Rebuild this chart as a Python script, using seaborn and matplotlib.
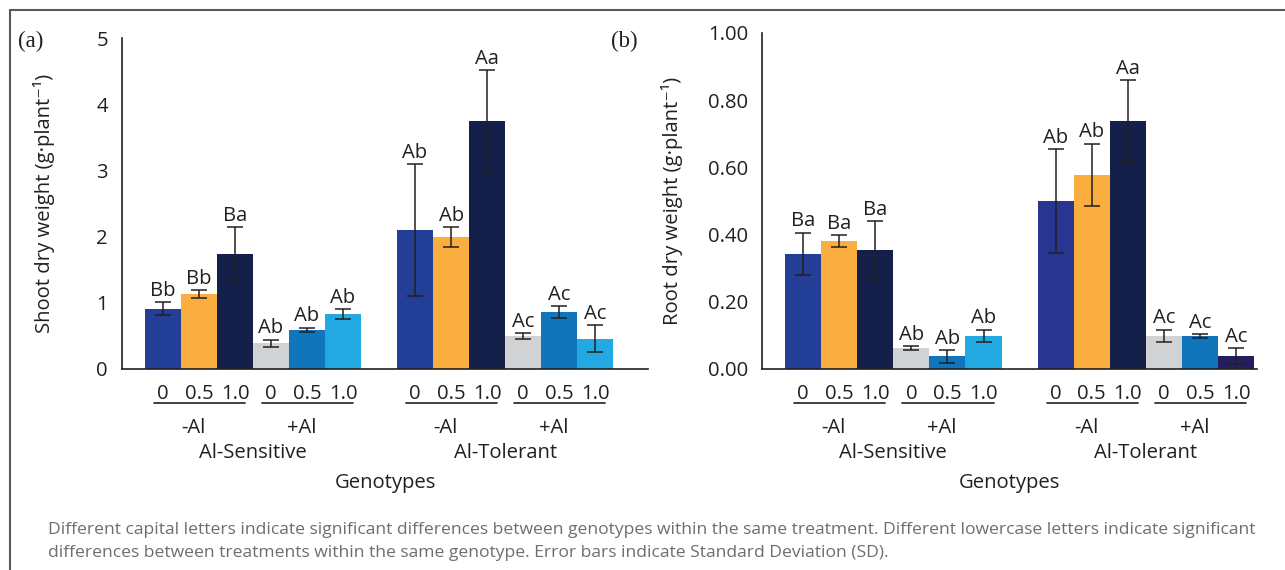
import numpy as np
import pandas as pd
import seaborn as sns
import matplotlib
matplotlib.use("Agg")
import matplotlib.pyplot as plt
from matplotlib.transforms import ScaledTranslation
from matplotlib.lines import Line2D
from matplotlib.ticker import FormatStrFormatter

# ---------------- data ----------------
genotypes = ["Al-Sensitive", "Al-Tolerant"]
treatments = ["-Al", "+Al"]
doses = ["0", "0.5", "1.0"]

shoot_mean = [0.91, 1.13, 1.74, 0.39, 0.59, 0.83, 2.10, 1.99, 3.75, 0.50, 0.86, 0.46]
shoot_sd = [0.10, 0.06, 0.40, 0.055, 0.035, 0.08, 1.00, 0.15, 0.77, 0.04, 0.095, 0.20]
shoot_letters = ["Bb", "Bb", "Ba", "Ab", "Ab", "Ab", "Ab", "Ab", "Aa", "Ac", "Ac", "Ac"]

root_mean = [0.343, 0.381, 0.354, 0.063, 0.038, 0.098, 0.50, 0.578, 0.739, 0.098, 0.098, 0.039]
root_sd = [0.063, 0.018, 0.087, 0.005, 0.019, 0.019, 0.154, 0.093, 0.12, 0.019, 0.005, 0.024]
root_letters = ["Ba", "Ba", "Ba", "Ab", "Ab", "Ab", "Ab", "Ab", "Aa", "Ac", "Ac", "Ac"]

shoot_colors = ["#233E97", "#F9AE3F", "#141F4A", "#D1D2D4", "#1075BA", "#23A9E1",
                "#233E97", "#F9AE3F", "#141F4A", "#D1D2D4", "#1075BA", "#23A9E1"]
root_colors = ["#233E97", "#F9AE3F", "#141F4A", "#D1D2D4", "#1075BA", "#23A9E1",
               "#283591", "#F9AE3F", "#141F4A", "#D1D2D4", "#1075BA", "#231F5F"]

caption1 = ("Different capital letters indicate significant differences between genotypes within the same treatment. "
            "Different lowercase letters indicate significant")
caption2 = "differences between treatments within the same genotype. Error bars indicate Standard Deviation (SD)."

# ---------------- style ----------------
sns.set_theme(style="white")
plt.rcParams["font.family"] = ["Open Sans", "DejaVu Sans"]
DARK = "#231F20"
DPI = 100
W, H = 1285, 570
FS = 14.6

# slots (12 bars + one empty gap between genotypes)
slots = []
for g in genotypes:
    for t in treatments:
        for d in doses:
            slots.append(f"{g}|{t}|{d}")
order = slots[:6] + ["gap"] + slots[6:]

fig = plt.figure(figsize=(W / DPI, H / DPI), dpi=DPI)
fig.patch.set_facecolor("white")


def px_axes(left, top, right, bottom):
    return [left / W, 1 - bottom / H, (right - left) / W, (bottom - top) / H]


ax_a = fig.add_axes(px_axes(122, 38, 648, 369))
ax_b = fig.add_axes(px_axes(762, 33, 1257, 369))


def draw_panel(ax, means, sds, letters, colors, ylim, yticks, fmt, ylabel, xright, ylab_x):
    df = pd.DataFrame({"slot": slots, "value": means, "sd": sds})
    pal = dict(zip(slots, colors))
    sns.barplot(data=df, x="slot", y="value", hue="slot", order=order, hue_order=slots,
                palette=pal, width=1.0, saturation=1, legend=False, errorbar=None,
                linewidth=0, ax=ax)
    pos = [order.index(s) for s in slots]
    ax.errorbar(pos, means, yerr=sds, fmt="none", ecolor=DARK, elinewidth=1.1,
                capsize=5.5, capthick=1.1, zorder=5)
    for x, m, s, lab in zip(pos, means, sds, letters):
        ax.annotate(lab, (x, m + s), xytext=(0, 4.5), textcoords="offset points",
                    ha="center", va="baseline", fontsize=FS, color=DARK)
    ax.set_xlim(-1.14, xright)
    ax.set_ylim(*ylim)
    ax.set_yticks(yticks)
    ax.yaxis.set_major_formatter(FormatStrFormatter(fmt))
    ax.tick_params(axis="y", direction="inout", length=14, width=1.1, color=DARK,
                   labelsize=FS, labelcolor=DARK, pad=3)
    ax.set_xticks([])
    ax.set_xlabel("")
    for sp in ["top", "right"]:
        ax.spines[sp].set_visible(False)
    for sp in ["left", "bottom"]:
        ax.spines[sp].set_color(DARK)
        ax.spines[sp].set_linewidth(1.2)
    ax.set_ylabel(ylabel, fontsize=FS, color=DARK)
    ax.yaxis.set_label_coords(ylab_x, 0.5)

    def below(px):
        return ax.get_xaxis_transform() + ScaledTranslation(0, -px / DPI, fig.dpi_scale_trans)

    # dose labels + underline + treatment + genotype labels
    for gi, g in enumerate(genotypes):
        gpos = []
        for ti, t in enumerate(treatments):
            tp = []
            for di, d in enumerate(doses):
                x = order.index(f"{g}|{t}|{d}")
                tp.append(x)
                ax.text(x, 0, d, transform=below(30), ha="center", va="baseline",
                        fontsize=FS, color=DARK)
            ax.add_artist(Line2D([tp[0] - 0.25, tp[-1] + 0.28], [0, 0], transform=below(34),
                                 color=DARK, lw=1.2, clip_on=False))
            ax.text(tp[1] - 0.15, 0, t, transform=below(64), ha="center", va="baseline",
                    fontsize=FS, color=DARK)
            gpos += tp
        ax.text((gpos[0] + gpos[-1]) / 2, 0, g, transform=below(89), ha="center",
                va="baseline", fontsize=FS, color=DARK)
    ax.text(0.5, 0, "Genotypes", transform=ax.transAxes + ScaledTranslation(0, -119 / DPI, fig.dpi_scale_trans),
            ha="center", va="baseline", fontsize=FS, color=DARK)


draw_panel(ax_a, shoot_mean, shoot_sd, shoot_letters, shoot_colors, (0, 5), [0, 1, 2, 3, 4, 5],
           "%d", "Shoot dry weight (g·plant\u207b\u00b9)", 13.47, (55 - 122) / 526)
draw_panel(ax_b, root_mean, root_sd, root_letters, root_colors, (0, 1.0),
           [0, 0.2, 0.4, 0.6, 0.8, 1.0], "%.2f", "Root dry weight (g·plant\u207b\u00b9)", 12.58,
           (683 - 762) / 495)

# panel tags
fig.text(18 / W, 1 - 47 / H, "(a)", family="Liberation Serif", fontsize=16.5, color=DARK, va="baseline")
fig.text(611 / W, 1 - 47 / H, "(b)", family="Liberation Serif", fontsize=16.5, color=DARK, va="baseline")

# frame
fig.add_artist(Line2D([10 / W, 10 / W], [0, 1 - 10 / H], transform=fig.transFigure, color="#58595B", lw=1.5))
fig.add_artist(Line2D([10 / W, 1], [1 - 10 / H, 1 - 10 / H], transform=fig.transFigure, color="#58595B", lw=1.5))

# caption
fig.text(48 / W, 1 - 534 / H, caption1, fontsize=12.6, color="#6D6E71", va="baseline")
fig.text(48 / W, 1 - 557 / H, caption2, fontsize=12.6, color="#6D6E71", va="baseline")

fig.savefig("out.png", dpi=DPI, facecolor="white")
